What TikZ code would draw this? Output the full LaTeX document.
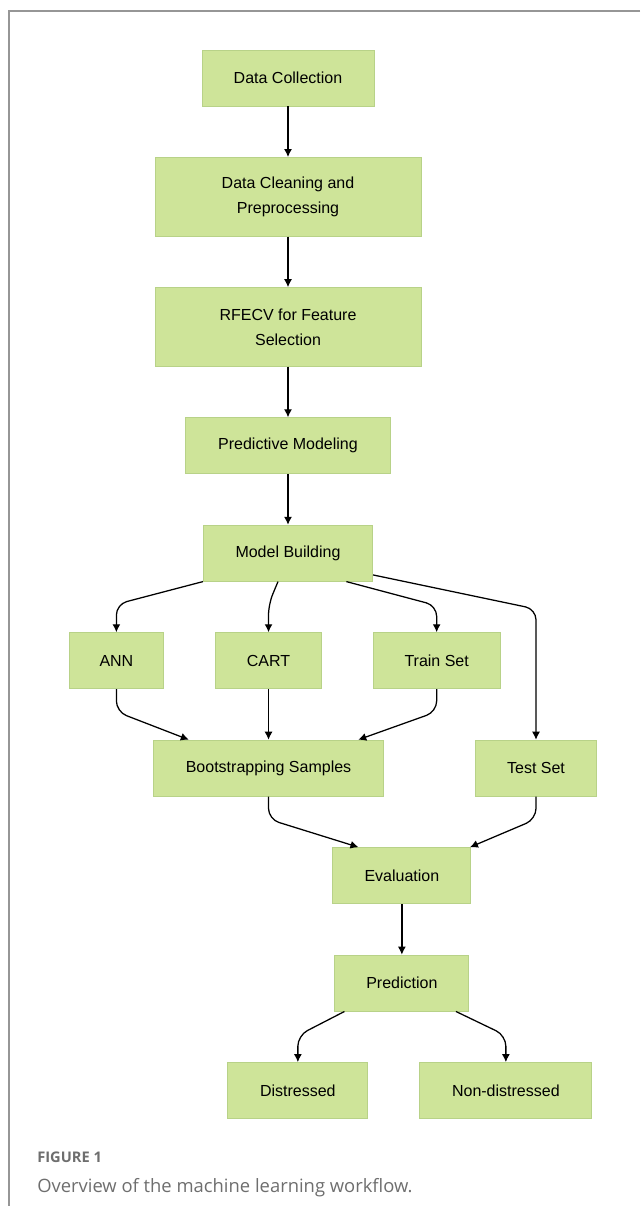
\documentclass[tikz,border=0pt]{standalone}
\usepackage{fontspec}
\setmainfont{Liberation Sans}
\newfontfamily\capfont{Open Sans}
\usetikzlibrary{positioning, arrows.meta}
\definecolor{boxfill}{RGB}{206,228,153}
\definecolor{boxdraw}{RGB}{184,210,136}
\definecolor{framegray}{RGB}{150,150,150}
\definecolor{capgray}{RGB}{110,110,110}
\tikzstyle{stage} = [rectangle,
minimum height=42pt,
text centered,
align=center,
font=\fontsize{12}{18.75}\selectfont,
draw=boxdraw, line width=0.6pt,
fill=boxfill]
\tikzstyle{tall} = [minimum height=59pt]
\tikzstyle{arrow} = [line width=0.95pt,-{Latex[length=6pt,width=6pt]},rounded corners=8pt]

\begin{document}
\begin{tikzpicture}[node distance=38pt]
	\useasboundingbox (-216pt,58.5pt) rectangle (264pt,-846pt);
	\draw [framegray, line width=0.8pt] (264pt,50.25pt) -- (-209.25pt,50.25pt) -- (-209.25pt,-846pt);

	\node (collect) [stage, minimum width=129pt] at (0,0) {Data Collection};
	\node (clean) [stage, tall, minimum width=199.5pt, below=of collect] {Data Cleaning and\\Preprocessing};
	\node (rfecv) [stage, tall, minimum width=199.5pt, below=of clean] {RFECV for Feature\\Selection};
	\node (pred_model) [stage, minimum width=154pt, below=of rfecv] {Predictive Modeling};
	\node (build) [stage, minimum width=127pt, below=of pred_model] {Model Building};
	\node (cart) [stage, minimum width=80pt, below=of build, xshift=-14.6pt] {CART};
	\node (ann) [stage, minimum width=71pt, left=of cart] {ANN};
	\node (train) [stage, minimum width=95pt, right=of cart] {Train Set};
	\node (boot) [stage, minimum width=173pt, below=of cart] {Bootstrapping Samples};
	\node (test) [stage, minimum width=91pt, right=68pt of boot] {Test Set};
	\node (eval) [stage, minimum width=103.5pt, below=of boot, xshift=100pt] {Evaluation};
	\node (predict) [stage, minimum width=100.5pt, below=of eval] {Prediction};
	\node (distressed) [stage, minimum width=105pt, below=of predict, xshift=-78pt] {Distressed};
	\node (non_distressed) [stage, minimum width=129pt, below=of predict, xshift=78pt] {Non-distressed};

	\draw [arrow] (collect) -- (clean);
	\draw [arrow] (clean) -- (rfecv);
	\draw [arrow] (rfecv) -- (pred_model);
	\draw [arrow] (pred_model) -- (build);
	\draw [arrow] (build.south west) -- ([yshift=21pt]ann.north) -- (ann.north);
	\draw [arrow] ([xshift=-7.5pt]build.south) -- ([yshift=21pt]cart.north) -- (cart.north);
	\draw [arrow] ([xshift=-20pt]build.south east) -- ([yshift=20pt]train.north) -- (train.north);
	\draw [arrow] ([yshift=5pt]build.south east) -- ([yshift=98pt]test.north) -- (test.north);
	\draw [arrow] (ann.south) -- ([yshift=-17pt]ann.south) -- ([xshift=27pt]boot.north west);
	\draw [arrow] (cart) -- (boot);
	\draw [arrow] (train.south) -- ([yshift=-17pt]train.south) -- ([xshift=-19.5pt]boot.north east);
	\draw [arrow] (boot.south) -- ([yshift=-17pt]boot.south) -- ([xshift=19.5pt]eval.north west);
	\draw [arrow] (test.south) -- ([yshift=-17pt]test.south) -- ([xshift=-1pt]eval.north east);
	\draw [arrow] (eval) -- (predict);
	\draw [arrow] ([xshift=7.5pt]predict.south west) -- ([yshift=20pt]distressed.north) -- (distressed.north);
	\draw [arrow] ([xshift=-10pt]predict.south east) -- ([yshift=20pt]non_distressed.north) -- (non_distressed.north);

	% caption
	\node (fig_label) [anchor=base west, inner sep=0pt, text=capgray, font=\capfont\bfseries\fontsize{11}{13}\selectfont] at (-188.25pt,-813pt) {FIGURE 1};
	\node (fig_caption) [anchor=base west, inner sep=0pt, text=capgray, font=\capfont\fontsize{13.8}{16}\selectfont] at (-188.25pt,-835.5pt) {Overview of the machine learning workflow.};
\end{tikzpicture}
\end{document}
